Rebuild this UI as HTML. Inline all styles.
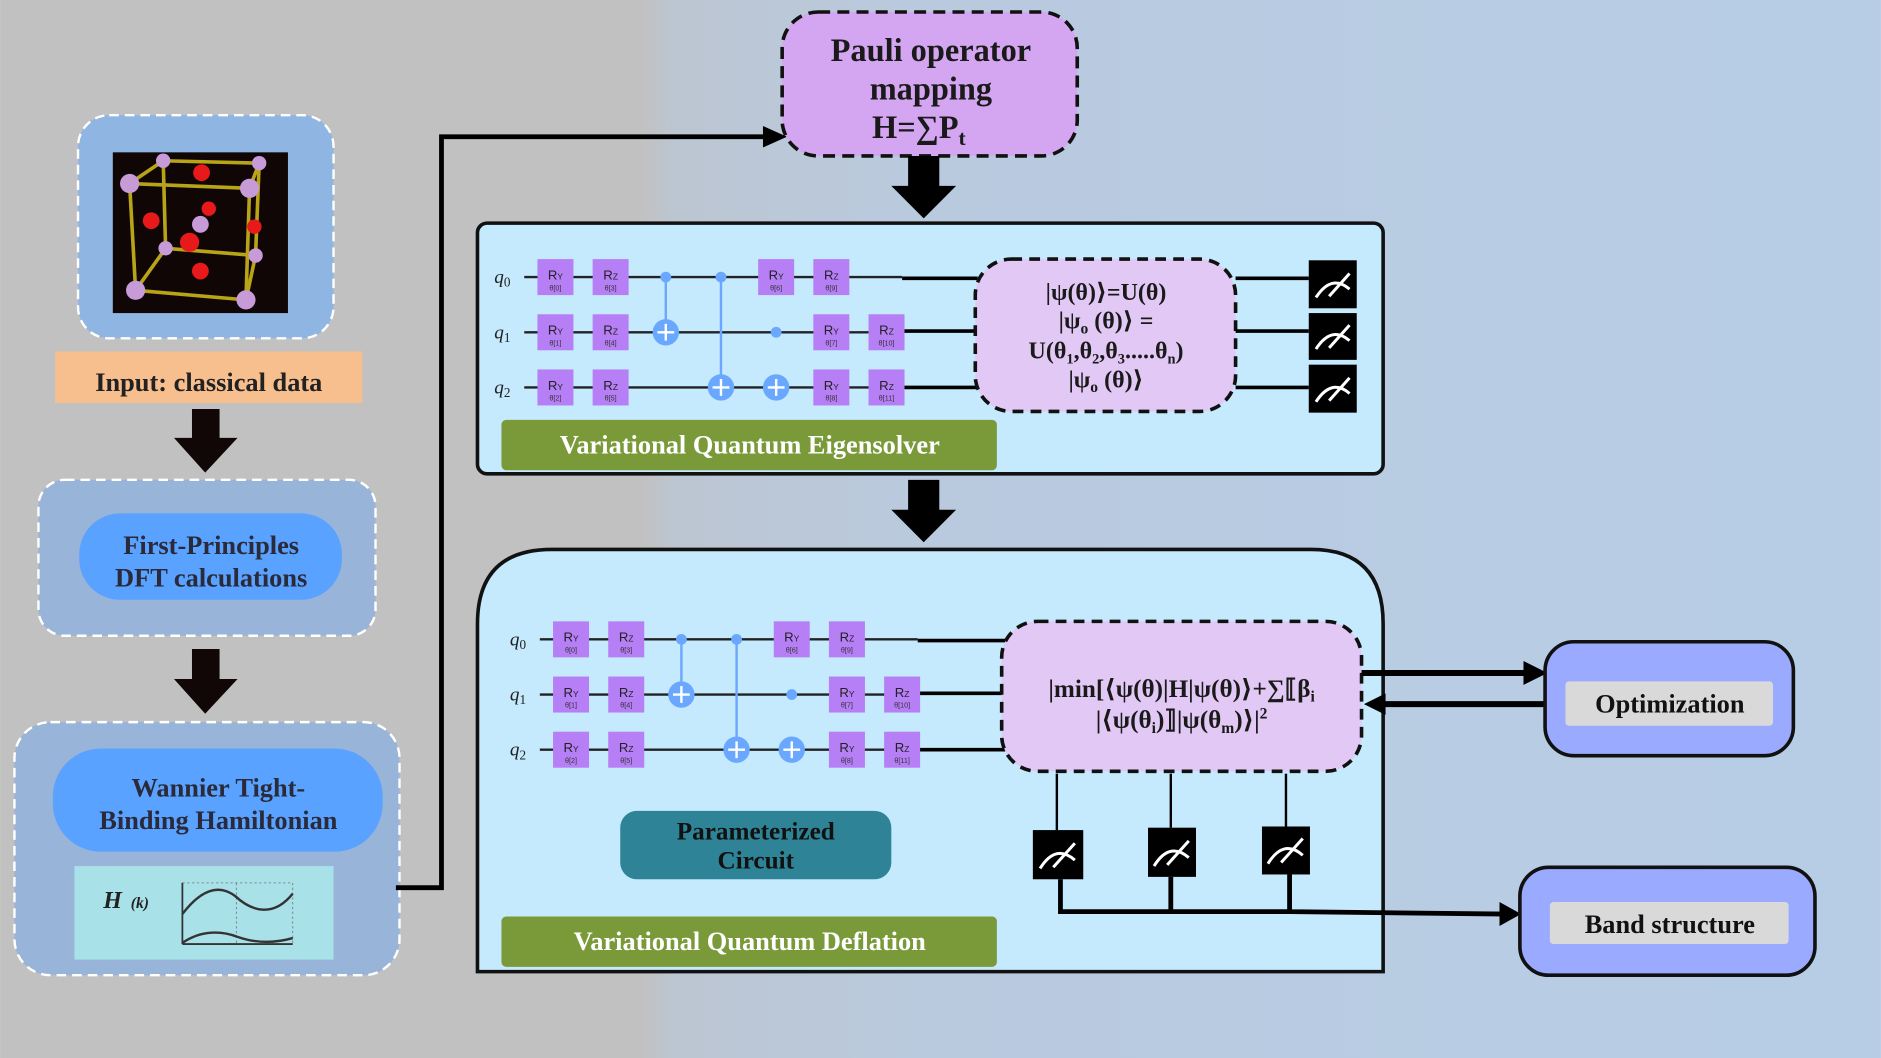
<!DOCTYPE html>
<html><head><meta charset="utf-8"><style>
html,body{margin:0;padding:0;}
body{width:1881px;height:1058px;overflow:hidden;}
svg{display:block;}
.s{font-family:"Liberation Serif","DejaVu Serif",serif;font-weight:bold;}
.g{font-family:"Liberation Sans","DejaVu Sans",sans-serif;}
</style></head><body>
<svg width="1881" height="1058" viewBox="0 0 1568 882" xmlns="http://www.w3.org/2000/svg">
<defs>
<linearGradient id="bg" x1="0" y1="0" x2="1" y2="0">
<stop offset="0" stop-color="#c1c1c1"/>
<stop offset="0.34" stop-color="#c1c1c1"/>
<stop offset="0.36" stop-color="#bcc6d2"/>
<stop offset="0.5" stop-color="#b9cadf"/>
<stop offset="1" stop-color="#b7cde6"/>
</linearGradient>
</defs>
<rect x="0" y="0" width="1568" height="882" fill="url(#bg)"/>

<!-- Crystal box -->
<rect x="65" y="96" width="213" height="186" rx="26" fill="#8fb5e2" stroke="#fff" stroke-width="2" stroke-dasharray="8 5"/>
<rect x="94" y="127" width="146" height="134" fill="#100606"/>
<g stroke="#b8a417" stroke-width="3">
<line x1="108" y1="153" x2="208" y2="157"/><line x1="136" y1="134" x2="216" y2="136"/>
<line x1="108" y1="153" x2="136" y2="134"/><line x1="208" y1="157" x2="216" y2="136"/>
<line x1="108" y1="153" x2="113" y2="242"/><line x1="208" y1="157" x2="205" y2="250"/>
<line x1="136" y1="134" x2="138" y2="207"/><line x1="216" y1="136" x2="213" y2="213"/>
<line x1="113" y1="242" x2="205" y2="250"/><line x1="138" y1="207" x2="213" y2="213"/>
<line x1="113" y1="242" x2="138" y2="207"/><line x1="205" y1="250" x2="213" y2="213"/>
</g>
<g fill="#e8191a">
<circle cx="168" cy="144" r="7"/><circle cx="174" cy="174" r="6"/><circle cx="126" cy="184" r="7"/>
<circle cx="158" cy="202" r="8"/><circle cx="167" cy="226" r="7"/><circle cx="212" cy="189" r="6"/>
</g>
<g fill="#c79ad8">
<circle cx="108" cy="153" r="8"/><circle cx="136" cy="134" r="6"/><circle cx="216" cy="136" r="6"/>
<circle cx="208" cy="157" r="8"/><circle cx="113" cy="242" r="8"/><circle cx="205" cy="250" r="8"/>
<circle cx="138" cy="207" r="6"/><circle cx="213" cy="213" r="6"/><circle cx="167" cy="187" r="7"/>
</g>

<rect x="46" y="293" width="256" height="43" fill="#f8bf8e"/>
<text x="174" y="326" class="s" font-size="22" fill="#222" text-anchor="middle">Input: classical data</text>

<!-- arrows left column -->
<path d="M160 341 H183 V365 H198 L171 394 L145 365 H160 Z" fill="#120707"/>
<path d="M160 541 H183 V566 H198 L171 595 L145 566 H160 Z" fill="#120707"/>

<!-- DFT box -->
<rect x="32" y="400" width="281" height="130" rx="22" fill="#98b4d8" stroke="#fff" stroke-width="2" stroke-dasharray="8 5"/>
<rect x="66" y="428" width="219" height="72" rx="34" fill="#5aa2ff"/>
<text x="176" y="462" class="s" font-size="22" fill="#2a2a3a" text-anchor="middle">First-Principles</text>
<text x="176" y="489" class="s" font-size="22" fill="#2a2a3a" text-anchor="middle">DFT calculations</text>

<!-- Wannier box -->
<rect x="12" y="602" width="321" height="211" rx="30" fill="#98b4d8" stroke="#fff" stroke-width="2" stroke-dasharray="8 5"/>
<rect x="44" y="624" width="275" height="86" rx="40" fill="#5aa2ff"/>
<text x="182" y="664" class="s" font-size="22" fill="#2a2a3a" text-anchor="middle">Wannier Tight-</text>
<text x="182" y="691" class="s" font-size="22" fill="#2a2a3a" text-anchor="middle">Binding Hamiltonian</text>
<rect x="62" y="722" width="216" height="78" fill="#a9e1e8"/>
<text x="86" y="757" class="s" font-size="20" font-style="italic" fill="#222">H</text>
<text x="109" y="757" class="s" font-size="13" font-style="italic" fill="#222">(k)</text>
<g fill="none">
<rect x="152" y="736" width="92" height="51" stroke="#777" stroke-width="0.7" stroke-dasharray="2 2"/>
<line x1="197" y1="736" x2="197" y2="787" stroke="#777" stroke-width="0.7" stroke-dasharray="2 2"/>
<line x1="152" y1="736" x2="152" y2="787" stroke="#333" stroke-width="1.5"/>
<line x1="152" y1="787" x2="244" y2="787" stroke="#333" stroke-width="1.5"/>
<path d="M152 762 C165 745 180 735 196 747 C210 760 228 765 244 745" stroke="#333" stroke-width="2"/>
<path d="M152 786 C168 775 185 776 198 781 C215 787 230 786 244 782" stroke="#333" stroke-width="2"/>
</g>

<!-- connector to Pauli -->
<path d="M330 740 H368 V114 H640" fill="none" stroke="#000" stroke-width="4"/>
<path d="M636 105 L656 114 L636 123 Z" fill="#000"/>

<!-- Pauli box -->
<rect x="652" y="10" width="246" height="120" rx="30" fill="#d4a5f0" stroke="#111" stroke-width="3" stroke-dasharray="10 6"/>
<text x="776" y="51" class="s" font-size="27" fill="#1a1a1a" text-anchor="middle">Pauli operator</text>
<text x="776" y="83" class="s" font-size="27" fill="#1a1a1a" text-anchor="middle">mapping</text>
<text x="766" y="115" class="s" font-size="27" fill="#1a1a1a" text-anchor="middle">H=∑P<tspan font-size="18" dy="6">t</tspan></text>

<path d="M757 130 H783 V155 H797 L770 182 L743 155 H757 Z" fill="#000"/>

<!-- VQE box -->
<rect x="398" y="186" width="755" height="209" rx="8" fill="#c5e9fd" stroke="#111" stroke-width="3"/>

<g id="c1">
<g stroke="#222" stroke-width="2">
<line x1="437" y1="231" x2="752" y2="231"/><line x1="437" y1="277" x2="752" y2="277"/><line x1="437" y1="323" x2="752" y2="323"/>
</g>
<g stroke="#000" stroke-width="3"><line x1="752" y1="232" x2="815" y2="232"/><line x1="752" y1="276" x2="815" y2="276"/><line x1="752" y1="323" x2="815" y2="323"/></g>
<g stroke="#6aa8ff" stroke-width="2"><line x1="555" y1="231" x2="555" y2="277"/><line x1="601" y1="231" x2="601" y2="323"/></g>
<g fill="#6aa8ff"><circle cx="555" cy="231" r="4.5"/><circle cx="601" cy="231" r="4.5"/><circle cx="647" cy="277" r="4.5"/>
<circle cx="555" cy="277" r="11"/><circle cx="601" cy="323" r="11"/><circle cx="647" cy="323" r="11"/></g>
<g stroke="#fff" stroke-width="2"><path d="M548 277 H562 M555 270 V284"/><path d="M594 323 H608 M601 316 V330"/><path d="M640 323 H654 M647 316 V330"/></g>
<g fill="#b67ff6">
<rect x="448" y="216" width="30" height="30"/><rect x="494" y="216" width="30" height="30"/><rect x="632" y="216" width="30" height="30"/><rect x="678" y="216" width="30" height="30"/>
<rect x="448" y="262" width="30" height="30"/><rect x="494" y="262" width="30" height="30"/><rect x="678" y="262" width="30" height="30"/><rect x="724" y="262" width="30" height="30"/>
<rect x="448" y="308" width="30" height="30"/><rect x="494" y="308" width="30" height="30"/><rect x="678" y="308" width="30" height="30"/><rect x="724" y="308" width="30" height="30"/>
</g>
<g class="g" font-size="11" fill="#222" text-anchor="middle">
<text x="463" y="233">R<tspan font-size="7">Y</tspan></text><text x="509" y="233">R<tspan font-size="7">Z</tspan></text><text x="647" y="233">R<tspan font-size="7">Y</tspan></text><text x="693" y="233">R<tspan font-size="7">Z</tspan></text>
<text x="463" y="279">R<tspan font-size="7">Y</tspan></text><text x="509" y="279">R<tspan font-size="7">Z</tspan></text><text x="693" y="279">R<tspan font-size="7">Y</tspan></text><text x="739" y="279">R<tspan font-size="7">Z</tspan></text>
<text x="463" y="325">R<tspan font-size="7">Y</tspan></text><text x="509" y="325">R<tspan font-size="7">Z</tspan></text><text x="693" y="325">R<tspan font-size="7">Y</tspan></text><text x="739" y="325">R<tspan font-size="7">Z</tspan></text>
</g>
<g class="g" font-size="6" fill="#333" text-anchor="middle">
<text x="463" y="242">θ[0]</text><text x="509" y="242">θ[3]</text><text x="647" y="242">θ[6]</text><text x="693" y="242">θ[9]</text>
<text x="463" y="288">θ[1]</text><text x="509" y="288">θ[4]</text><text x="693" y="288">θ[7]</text><text x="739" y="288">θ[10]</text>
<text x="463" y="334">θ[2]</text><text x="509" y="334">θ[5]</text><text x="693" y="334">θ[8]</text><text x="739" y="334">θ[11]</text>
</g>
<g font-family="Liberation Serif,serif" font-style="italic" font-size="16" fill="#222">
<text x="412" y="236">q<tspan font-size="11" dy="3" font-style="normal">0</tspan></text>
<text x="412" y="282">q<tspan font-size="11" dy="3" font-style="normal">1</tspan></text>
<text x="412" y="328">q<tspan font-size="11" dy="3" font-style="normal">2</tspan></text>
</g>
</g>

<rect x="813" y="216" width="217" height="127" rx="30" fill="#e2c8f4" stroke="#111" stroke-width="3" stroke-dasharray="9 6"/>
<g class="s" font-weight="normal" font-size="20" fill="#1a1a1a" text-anchor="middle">
<text x="922" y="250">|ψ(θ)⟩=<tspan font-weight="bold">U</tspan>(θ)</text>
<text x="922" y="274">|ψ<tspan font-size="13" dy="4" font-weight="bold">o</tspan><tspan dy="-4"> (θ)⟩ =</tspan></text>
<text x="922" y="299"><tspan font-weight="bold">U</tspan>(θ<tspan font-size="12" dy="4">1</tspan><tspan dy="-4">,θ</tspan><tspan font-size="12" dy="4">2</tspan><tspan dy="-4">,θ</tspan><tspan font-size="12" dy="4">3</tspan><tspan dy="-4">.....θ</tspan><tspan font-size="12" dy="4">n</tspan><tspan dy="-4">)</tspan></text>
<text x="922" y="323">|ψ<tspan font-size="13" dy="4" font-weight="bold">o</tspan><tspan dy="-4"> (θ)⟩</tspan></text>
</g>
<g stroke="#000" stroke-width="3"><line x1="1030" y1="232" x2="1091" y2="232"/><line x1="1030" y1="276" x2="1091" y2="276"/><line x1="1030" y1="323" x2="1091" y2="323"/></g>
<g fill="#000"><rect x="1091" y="217" width="40" height="40"/><rect x="1091" y="261" width="40" height="39"/><rect x="1091" y="304" width="40" height="40"/></g>
<g fill="none" stroke="#fff" stroke-width="2.5">
<path d="M1097 248 Q1110 228 1125 241 M1108 247 L1125 228"/>
<path d="M1097 291 Q1110 271 1125 284 M1108 290 L1125 271"/>
<path d="M1097 335 Q1110 315 1125 328 M1108 334 L1125 315"/>
</g>
<rect x="418" y="350" width="413" height="42" rx="4" fill="#7a9a3a"/>
<text x="625" y="378" class="s" font-size="22" fill="#fff" text-anchor="middle">Variational Quantum Eigensolver</text>

<path d="M757 400 H783 V425 H797 L770 452 L743 425 H757 Z" fill="#000"/>

<!-- VQD box -->
<path d="M398 810 V520 Q398 458 460 458 H1093 Q1153 458 1153 520 V810 Z" fill="#c5e9fd" stroke="#111" stroke-width="3"/>

<g transform="translate(13,302)">
<g stroke="#222" stroke-width="2">
<line x1="437" y1="231" x2="752" y2="231"/><line x1="437" y1="277" x2="752" y2="277"/><line x1="437" y1="323" x2="752" y2="323"/>
</g>
<g stroke="#000" stroke-width="3"><line x1="752" y1="232" x2="825" y2="232"/><line x1="752" y1="276" x2="825" y2="276"/><line x1="752" y1="323" x2="825" y2="323"/></g>
<g stroke="#6aa8ff" stroke-width="2"><line x1="555" y1="231" x2="555" y2="277"/><line x1="601" y1="231" x2="601" y2="323"/></g>
<g fill="#6aa8ff"><circle cx="555" cy="231" r="4.5"/><circle cx="601" cy="231" r="4.5"/><circle cx="647" cy="277" r="4.5"/>
<circle cx="555" cy="277" r="11"/><circle cx="601" cy="323" r="11"/><circle cx="647" cy="323" r="11"/></g>
<g stroke="#fff" stroke-width="2"><path d="M548 277 H562 M555 270 V284"/><path d="M594 323 H608 M601 316 V330"/><path d="M640 323 H654 M647 316 V330"/></g>
<g fill="#b67ff6">
<rect x="448" y="216" width="30" height="30"/><rect x="494" y="216" width="30" height="30"/><rect x="632" y="216" width="30" height="30"/><rect x="678" y="216" width="30" height="30"/>
<rect x="448" y="262" width="30" height="30"/><rect x="494" y="262" width="30" height="30"/><rect x="678" y="262" width="30" height="30"/><rect x="724" y="262" width="30" height="30"/>
<rect x="448" y="308" width="30" height="30"/><rect x="494" y="308" width="30" height="30"/><rect x="678" y="308" width="30" height="30"/><rect x="724" y="308" width="30" height="30"/>
</g>
<g class="g" font-size="11" fill="#222" text-anchor="middle">
<text x="463" y="233">R<tspan font-size="7">Y</tspan></text><text x="509" y="233">R<tspan font-size="7">Z</tspan></text><text x="647" y="233">R<tspan font-size="7">Y</tspan></text><text x="693" y="233">R<tspan font-size="7">Z</tspan></text>
<text x="463" y="279">R<tspan font-size="7">Y</tspan></text><text x="509" y="279">R<tspan font-size="7">Z</tspan></text><text x="693" y="279">R<tspan font-size="7">Y</tspan></text><text x="739" y="279">R<tspan font-size="7">Z</tspan></text>
<text x="463" y="325">R<tspan font-size="7">Y</tspan></text><text x="509" y="325">R<tspan font-size="7">Z</tspan></text><text x="693" y="325">R<tspan font-size="7">Y</tspan></text><text x="739" y="325">R<tspan font-size="7">Z</tspan></text>
</g>
<g class="g" font-size="6" fill="#333" text-anchor="middle">
<text x="463" y="242">θ[0]</text><text x="509" y="242">θ[3]</text><text x="647" y="242">θ[6]</text><text x="693" y="242">θ[9]</text>
<text x="463" y="288">θ[1]</text><text x="509" y="288">θ[4]</text><text x="693" y="288">θ[7]</text><text x="739" y="288">θ[10]</text>
<text x="463" y="334">θ[2]</text><text x="509" y="334">θ[5]</text><text x="693" y="334">θ[8]</text><text x="739" y="334">θ[11]</text>
</g>
<g font-family="Liberation Serif,serif" font-style="italic" font-size="16" fill="#222">
<text x="412" y="236">q<tspan font-size="11" dy="3" font-style="normal">0</tspan></text>
<text x="412" y="282">q<tspan font-size="11" dy="3" font-style="normal">1</tspan></text>
<text x="412" y="328">q<tspan font-size="11" dy="3" font-style="normal">2</tspan></text>
</g>
</g>

<rect x="835" y="518" width="300" height="125" rx="30" fill="#e2c8f4" stroke="#111" stroke-width="3" stroke-dasharray="9 6"/>
<g class="s" font-weight="normal" font-size="21" fill="#1a1a1a" text-anchor="middle">
<text x="985" y="581">|<tspan font-weight="bold">min</tspan>[⟨ψ(θ)|<tspan font-weight="bold">H</tspan>|ψ(θ)⟩+∑⟦β<tspan font-size="13" dy="4">i</tspan></text>
<text x="985" y="607">|⟨ψ(θ<tspan font-size="13" dy="4">i</tspan><tspan dy="-4">)⟧|ψ(θ</tspan><tspan font-size="13" dy="4">m</tspan><tspan dy="-4">)⟩|</tspan><tspan font-size="13" dy="-8">2</tspan></text>
</g>

<!-- measurement connections -->
<g stroke="#000" stroke-width="2"><line x1="881" y1="645" x2="881" y2="692"/><line x1="976" y1="645" x2="976" y2="690"/><line x1="1072" y1="645" x2="1072" y2="689"/></g>
<g fill="#000"><rect x="861" y="692" width="42" height="41"/><rect x="957" y="690" width="40" height="41"/><rect x="1052" y="689" width="40" height="40"/></g>
<g fill="none" stroke="#fff" stroke-width="2.5">
<path d="M867 724 Q880 703 896 717 M878 723 L896 703"/>
<path d="M962 722 Q975 701 991 715 M973 721 L991 701"/>
<path d="M1057 720 Q1070 699 1086 713 M1068 719 L1086 699"/>
</g>
<path d="M884 733 V760 H1075 V729 M976 731 V760 M1075 760 L1255 762" fill="none" stroke="#000" stroke-width="4"/>
<path d="M1250 752 L1268 762 L1250 772 Z" fill="#000"/>

<rect x="517" y="676" width="226" height="57" rx="14" fill="#2e8496"/>
<text x="630" y="700" class="s" font-size="21" fill="#111" text-anchor="middle">Parameterized</text>
<text x="630" y="724" class="s" font-size="21" fill="#111" text-anchor="middle">Circuit</text>

<rect x="418" y="764" width="413" height="42" rx="4" fill="#7a9a3a"/>
<text x="625" y="792" class="s" font-size="22" fill="#fff" text-anchor="middle">Variational Quantum Deflation</text>

<!-- Optimization arrows -->
<line x1="1135" y1="561" x2="1275" y2="561" stroke="#000" stroke-width="5"/>
<path d="M1270 551 L1290 561 L1270 571 Z" fill="#000"/>
<line x1="1288" y1="587" x2="1150" y2="587" stroke="#000" stroke-width="5"/>
<path d="M1155 578 L1137 587 L1155 596 Z" fill="#000"/>

<rect x="1288" y="535" width="207" height="95" rx="24" fill="#9aabff" stroke="#111" stroke-width="3"/>
<rect x="1305" y="568" width="173" height="37" rx="3" fill="#d9d9d9"/>
<text x="1392" y="594" class="s" font-size="22" fill="#111" text-anchor="middle">Optimization</text>

<rect x="1267" y="723" width="246" height="90" rx="24" fill="#9aabff" stroke="#111" stroke-width="3"/>
<rect x="1292" y="752" width="199" height="35" rx="3" fill="#d9d9d9"/>
<text x="1392" y="778" class="s" font-size="22" fill="#111" text-anchor="middle">Band structure</text>
</svg>
</body></html>
